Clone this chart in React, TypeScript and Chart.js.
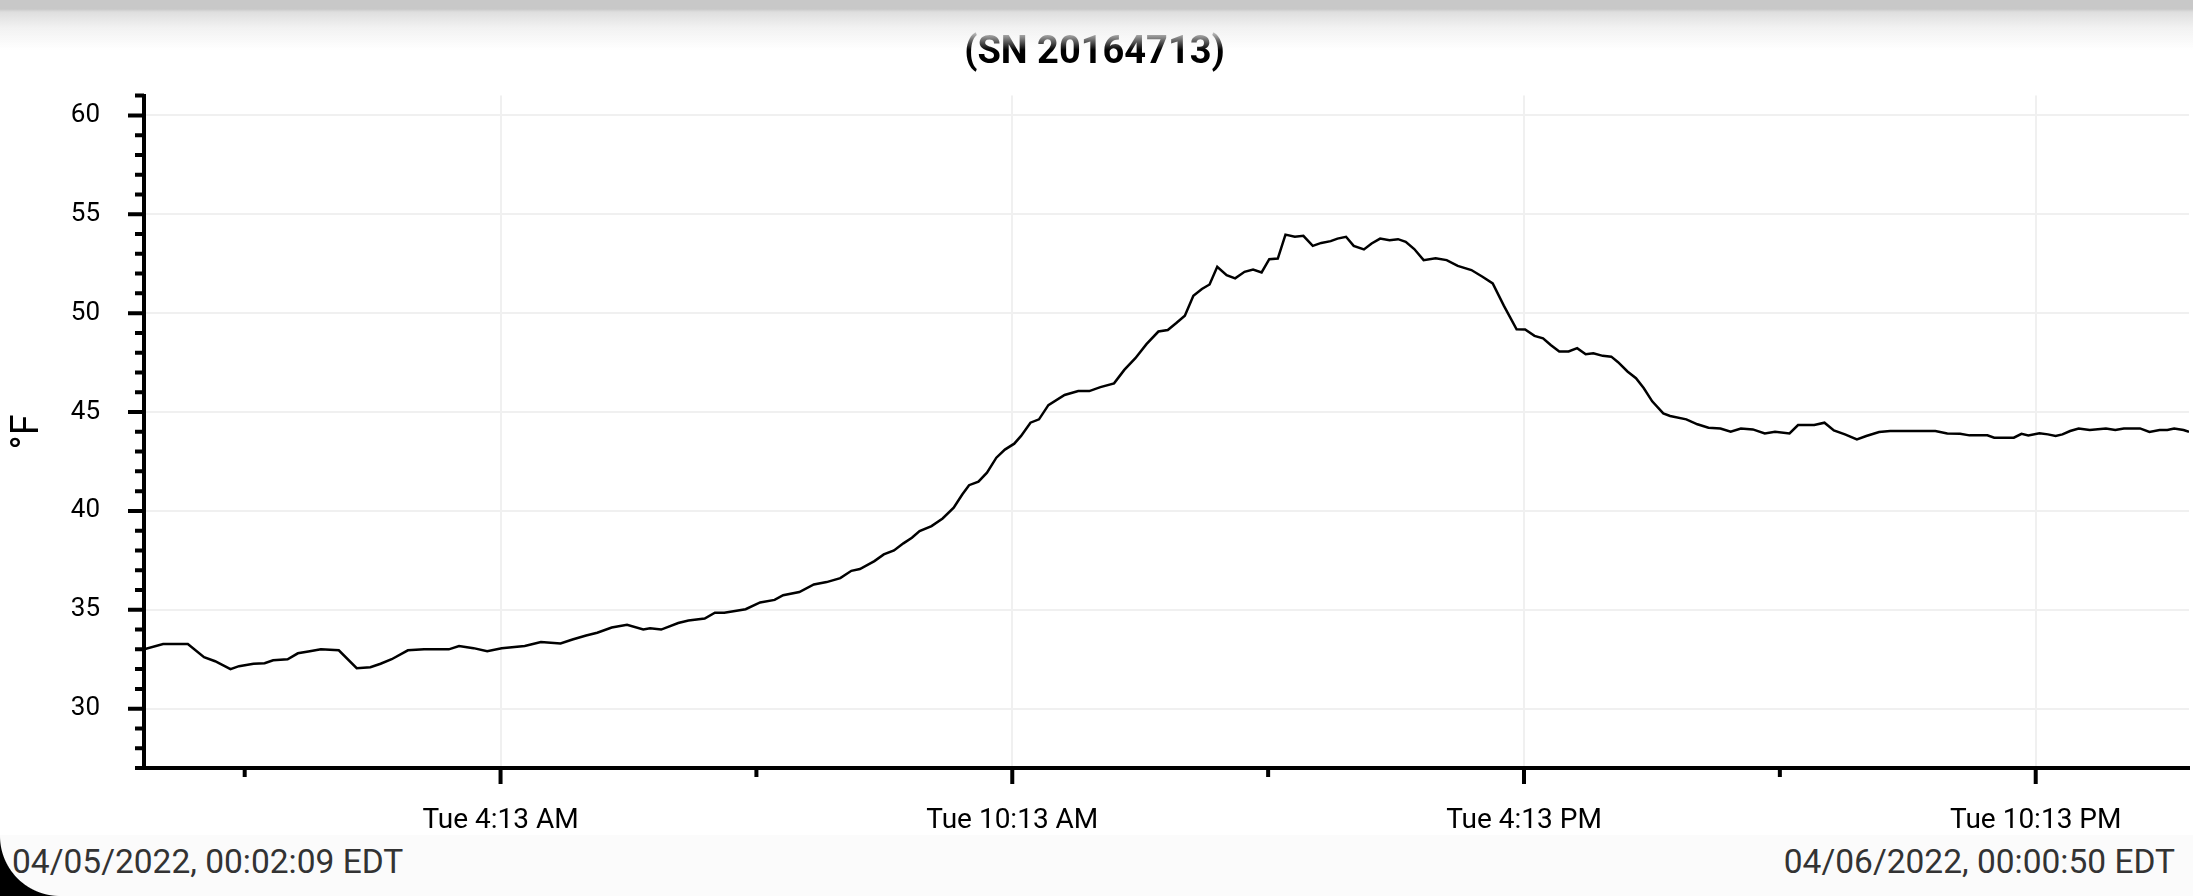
import { useEffect, useRef } from 'react';
import { Chart, registerables } from 'chart.js';

Chart.register(...registerables);

// readings, hours after midnight on 04/05/2022 (EDT)
const hours = [
  0.036, 0.26, 0.55, 0.74, 0.87, 1.05, 1.15, 1.32, 1.45, 1.55, 1.72, 1.84, 1.98, 2.11, 2.32,
  2.53, 2.69, 2.81, 2.94, 3.13, 3.32, 3.61, 3.73, 3.9, 4.06, 4.23, 4.5, 4.69, 4.92, 5.06,
  5.22, 5.35, 5.52, 5.7, 5.89, 5.97, 6.1, 6.3, 6.42, 6.61, 6.73, 6.84, 7.09, 7.26, 7.43,
  7.53, 7.72, 7.89, 8.04, 8.2, 8.33, 8.43, 8.6, 8.71, 8.83, 8.94, 9.04, 9.13, 9.27, 9.4,
  9.53, 9.63, 9.71, 9.82, 9.92, 10.03, 10.13, 10.24, 10.32, 10.43, 10.53, 10.64, 10.83, 10.99, 11.12,
  11.25, 11.41, 11.53, 11.66, 11.79, 11.93, 12.04, 12.14, 12.24, 12.34, 12.44, 12.53, 12.62, 12.73, 12.83,
  12.94, 13.04, 13.14, 13.23, 13.33, 13.42, 13.53, 13.63, 13.74, 13.84, 13.95, 14.03, 14.13, 14.22, 14.34,
  14.43, 14.53, 14.64, 14.74, 14.83, 14.93, 15.04, 15.18, 15.31, 15.44, 15.6, 15.73, 15.85, 15.98, 16.13,
  16.23, 16.34, 16.44, 16.53, 16.63, 16.74, 16.84, 16.94, 17.03, 17.14, 17.24, 17.32, 17.43, 17.53, 17.62,
  17.72, 17.85, 17.93, 18.12, 18.25, 18.38, 18.52, 18.64, 18.76, 18.9, 19.04, 19.16, 19.33, 19.43, 19.62,
  19.74, 19.85, 19.98, 20.12, 20.23, 20.38, 20.51, 21.04, 21.18, 21.33, 21.44, 21.65, 21.73, 21.96, 22.05,
  22.13, 22.26, 22.36, 22.45, 22.53, 22.62, 22.72, 22.85, 23.04, 23.15, 23.25, 23.44, 23.55, 23.67, 23.76,
  23.84, 23.95, 24.014,
];

const temps = [
  33.0, 33.27, 33.27, 32.6, 32.4, 32.0, 32.15, 32.27, 32.3, 32.45, 32.5, 32.8, 32.9, 33.0, 32.95,
  32.05, 32.1, 32.27, 32.5, 32.95, 33.0, 33.0, 33.17, 33.06, 32.9, 33.06, 33.17, 33.37, 33.3, 33.5,
  33.7, 33.84, 34.1, 34.24, 34.0, 34.07, 34.0, 34.33, 34.46, 34.56, 34.85, 34.85, 35.03, 35.37, 35.5,
  35.74, 35.9, 36.28, 36.4, 36.6, 36.97, 37.06, 37.46, 37.8, 38.0, 38.36, 38.64, 38.98, 39.23, 39.62,
  40.16, 40.83, 41.3, 41.48, 41.93, 42.69, 43.1, 43.4, 43.79, 44.46, 44.63, 45.35, 45.86, 46.06, 46.06,
  46.26, 46.45, 47.13, 47.72, 48.43, 49.07, 49.15, 49.5, 49.87, 50.88, 51.22, 51.45, 52.34, 51.92, 51.76,
  52.09, 52.2, 52.06, 52.73, 52.76, 53.97, 53.86, 53.91, 53.4, 53.55, 53.64, 53.77, 53.86, 53.4, 53.22,
  53.52, 53.77, 53.69, 53.74, 53.61, 53.24, 52.68, 52.77, 52.68, 52.39, 52.18, 51.84, 51.5, 50.38, 49.18,
  49.17, 48.85, 48.73, 48.39, 48.06, 48.06, 48.23, 47.92, 47.97, 47.84, 47.8, 47.52, 47.05, 46.71, 46.21,
  45.54, 44.93, 44.8, 44.63, 44.38, 44.21, 44.17, 44.0, 44.17, 44.12, 43.92, 44.0, 43.92, 44.34, 44.34,
  44.46, 44.07, 43.87, 43.62, 43.79, 43.99, 44.04, 44.04, 43.92, 43.9, 43.82, 43.82, 43.7, 43.7, 43.9,
  43.82, 43.92, 43.87, 43.79, 43.87, 44.04, 44.17, 44.09, 44.17, 44.09, 44.17, 44.17, 43.99, 44.09, 44.09,
  44.17, 44.09, 44.0,
];

const startHour = 0.036;
const endHour = 24.014;
const yMin = 27;
const yMax = 61;

const majorTickHours = [4 + 13 / 60, 10 + 13 / 60, 16 + 13 / 60, 22 + 13 / 60];
const majorTickLabels = ['Tue 4:13 AM', 'Tue 10:13 AM', 'Tue 4:13 PM', 'Tue 10:13 PM'];
const minorTickHours = [1 + 13 / 60, 7 + 13 / 60, 13 + 13 / 60, 19 + 13 / 60];

const chartTitle = '(SN 20164713)';
const yTitle = '°F';
const startLabel = '04/05/2022, 00:02:09 EDT';
const endLabel = '04/06/2022, 00:00:50 EDT';

const majorIndex = (v: number) => majorTickHours.findIndex((h) => Math.abs(h - v) < 1e-6);

// tick marks of two lengths (major / minor), drawn from the scales
const tickMarks = {
  id: 'tickMarks',
  afterDraw(chart: any) {
    const { ctx, chartArea, scales } = chart;
    const { x, y } = scales;
    ctx.save();
    ctx.strokeStyle = '#000';
    ctx.lineWidth = 4;
    ctx.beginPath();
    y.ticks.forEach((t: any) => {
      const py = y.getPixelForValue(t.value);
      const len = t.value % 5 === 0 ? 16 : 9;
      ctx.moveTo(chartArea.left - len, py);
      ctx.lineTo(chartArea.left, py);
    });
    x.ticks.forEach((t: any) => {
      const px = x.getPixelForValue(t.value);
      const len = majorIndex(t.value) >= 0 ? 16 : 9;
      ctx.moveTo(px, chartArea.bottom);
      ctx.lineTo(px, chartArea.bottom + len);
    });
    ctx.stroke();
    ctx.restore();
  },
};

function TempChart() {
  const canvasRef = useRef<HTMLCanvasElement>(null);

  useEffect(() => {
    if (!canvasRef.current) return;
    const chart = new Chart(canvasRef.current, {
      type: 'line',
      data: {
        datasets: [
          {
            label: yTitle,
            data: hours.map((h, i) => ({ x: h, y: temps[i] })),
            borderColor: '#000',
            borderWidth: 2.5,
            pointRadius: 0,
            tension: 0,
            fill: false,
          },
        ],
      },
      options: {
        animation: false,
        responsive: true,
        maintainAspectRatio: false,
        layout: { padding: { left: 0, right: 4, top: 0, bottom: 0 } },
        plugins: {
          legend: { display: false },
          tooltip: { enabled: false },
          title: {
            display: true,
            text: chartTitle,
            color: '#000',
            font: { family: 'Roboto', size: 38, weight: 'bold' },
            padding: { top: 31, bottom: 19 },
          },
        },
        scales: {
          x: {
            type: 'linear',
            min: startHour,
            max: endHour,
            afterBuildTicks: (scale: any) => {
              scale.ticks = [...minorTickHours, ...majorTickHours]
                .sort((a, b) => a - b)
                .map((v) => ({ value: v }));
            },
            afterFit: (scale: any) => {
              scale.height = 67;
            },
            ticks: {
              autoSkip: false,
              maxRotation: 0,
              padding: 36,
              color: '#000',
              font: { family: 'Roboto', size: 28 },
              callback: (value: any) => {
                const i = majorIndex(Number(value));
                return i >= 0 ? majorTickLabels[i] : '';
              },
            },
            grid: {
              drawTicks: false,
              lineWidth: 2,
              color: (ctx: any) =>
                ctx.tick && majorIndex(ctx.tick.value) >= 0 ? '#f0f0f0' : 'rgba(0,0,0,0)',
            },
            border: { display: true, color: '#000', width: 4 },
          },
          y: {
            min: yMin,
            max: yMax,
            afterBuildTicks: (scale: any) => {
              const t = [];
              for (let v = yMin; v <= yMax; v++) t.push({ value: v });
              scale.ticks = t;
            },
            afterFit: (scale: any) => {
              scale.width = 144;
            },
            ticks: {
              autoSkip: false,
              padding: 44,
              color: '#000',
              font: { family: 'Roboto', size: 26 },
              callback: (value: any) => (Number(value) % 5 === 0 ? String(value) : ''),
            },
            grid: {
              drawTicks: false,
              lineWidth: 2,
              color: (ctx: any) =>
                ctx.tick && ctx.tick.value % 5 === 0 ? '#f0f0f0' : 'rgba(0,0,0,0)',
            },
            border: { display: true, color: '#000', width: 4 },
            title: {
              display: true,
              text: yTitle,
              color: '#000',
              font: { family: 'Roboto', size: 38 },
              padding: { top: 6, bottom: 0 },
            },
          },
        },
      },
      plugins: [tickMarks],
    });
    return () => chart.destroy();
  }, []);

  return <canvas ref={canvasRef} />;
}

export default function App() {
  const footText = {
    position: 'absolute' as const,
    top: 845,
    fontFamily: 'Roboto',
    fontSize: 33.5,
    lineHeight: '33.5px',
    color: '#333',
    whiteSpace: 'nowrap' as const,
  };
  return (
    <div
      style={{
        position: 'relative',
        width: 2193,
        height: 896,
        overflow: 'hidden',
        background: '#fff',
      }}
    >
      <style>{'body{margin:0}'}</style>
      <div style={{ position: 'absolute', left: 0, top: 0, width: 2193, height: 835 }}>
        <TempChart />
      </div>
      <div
        style={{
          position: 'absolute',
          left: 0,
          top: 0,
          width: 2193,
          height: 50,
          pointerEvents: 'none',
          background:
            'linear-gradient(#c8c8c8 0px, #c8c8c8 9px, #dedede 12px, #f2f2f2 28px, rgba(255,255,255,0) 50px)',
        }}
      />
      <div
        style={{
          position: 'absolute',
          left: 0,
          top: 835,
          width: 2193,
          height: 61,
          background: '#fbfbfb',
        }}
      />
      <div style={{ ...footText, left: 12 }}>{startLabel}</div>
      <div style={{ ...footText, right: 18 }}>{endLabel}</div>
      <div
        style={{
          position: 'absolute',
          left: 0,
          top: 836,
          width: 60,
          height: 60,
          background: 'radial-gradient(circle 60px at 100% 0%, rgba(0,0,0,0) 59.5px, #000 60.5px)',
        }}
      />
    </div>
  );
}
